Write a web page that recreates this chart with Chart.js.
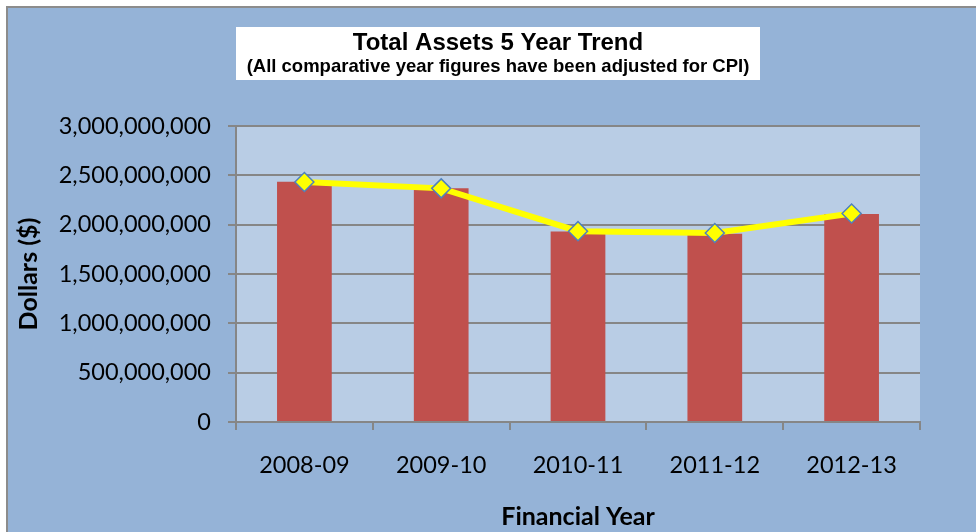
<!DOCTYPE html>
<html>
<head>
<meta charset="utf-8">
<script src="https://cdn.jsdelivr.net/npm/chart.js@4.4.0/dist/chart.umd.min.js"></script>
<style>
html,body{margin:0;padding:0;background:#fff}
#wrap{width:976px;height:532px;position:relative}
</style>
</head>
<body>
<div id="wrap"><canvas id="chart-assets" width="976" height="532"></canvas></div>
<script>
// data
const years=['2008-09','2009-10','2010-11','2011-12','2012-13'];
const assetBars=[2435000000,2370000000,1930000000,1908000000,2108000000];
const assetTrend=[2432000000,2368000000,1934000000,1916000000,2113000000];
const yMax=3000000000, yStep=500000000;

const fmtN=v=>Number(v).toLocaleString('en-US');

// backgrounds + title box
const frame={
  id:'frame',
  beforeDraw(c){
    const g=c.ctx, a=c.chartArea;
    g.save();
    g.fillStyle='#fff'; g.fillRect(0,0,c.width,c.height);
    g.fillStyle='#8c8c8c'; g.fillRect(6,6,c.width-6,c.height-6);
    g.fillStyle='#95b3d7'; g.fillRect(8,8,c.width-8,c.height-8);
    g.fillStyle='#b9cde5'; g.fillRect(a.left,a.top,a.right-a.left,a.bottom-a.top);
    g.restore();
  },
  afterDraw(c){
    const g=c.ctx;
    g.save();
    g.fillStyle='#fff'; g.fillRect(236,27,524,53);
    g.fillStyle='#000'; g.textAlign='center'; g.textBaseline='middle';
    g.font='bold 24px "Liberation Sans", Arial, sans-serif';
    g.fillText('Total Assets 5 Year Trend',498,43);
    g.font='bold 18.5px "Liberation Sans", Arial, sans-serif';
    g.fillText('(All comparative year figures have been adjusted for CPI)',498,67);
    g.restore();
  }
};

const ctx=document.getElementById('chart-assets');
new Chart(ctx,{
  type:'bar',
  data:{labels:years,datasets:[
    {type:'line',label:'Trend',data:assetTrend,borderColor:'#ffff00',borderWidth:6,tension:0,
     pointStyle:'rectRot',pointRadius:9.5,pointHoverRadius:9.5,pointBackgroundColor:'#ffff00',
     pointBorderColor:'#4f81bd',pointBorderWidth:1.5,order:0},
    {label:'Total Assets',data:assetBars,backgroundColor:'#c0504d',borderWidth:0,
     barPercentage:0.4,categoryPercentage:1,order:1}
  ]},
  options:{
    responsive:false,animation:false,
    layout:{padding:{top:126,left:8,right:56,bottom:0}},
    plugins:{legend:{display:false},tooltip:{enabled:false},title:{display:false}},
    scales:{
      x:{
        grid:{offset:true,drawOnChartArea:false,drawTicks:true,tickLength:8,color:'#868686',lineWidth:2},
        border:{color:'#868686',width:2},
        ticks:{color:'#000',font:{family:'Lato',size:23.5},padding:21,maxRotation:0},
        title:{display:true,text:'Financial Year',color:'#000',font:{family:'Lato',size:25,weight:'bold'},padding:{top:0,bottom:0}},
        afterFit(s){s.height=110;}
      },
      y:{
        min:0,max:yMax,
        grid:{color:'#868686',lineWidth:2,tickLength:8,drawTicks:true},
        border:{color:'#868686',width:2},
        ticks:{stepSize:yStep,color:'#000',font:{family:'Lato',size:23.5},padding:17,callback:v=>fmtN(v)},
        title:{display:true,text:'Dollars ($)',color:'#000',font:{family:'Lato',size:25,weight:'bold'},padding:{top:6,bottom:0}},
        afterFit(s){s.width=228;}
      }
    }
  },
  plugins:[frame]
});
</script>
</body>
</html>
